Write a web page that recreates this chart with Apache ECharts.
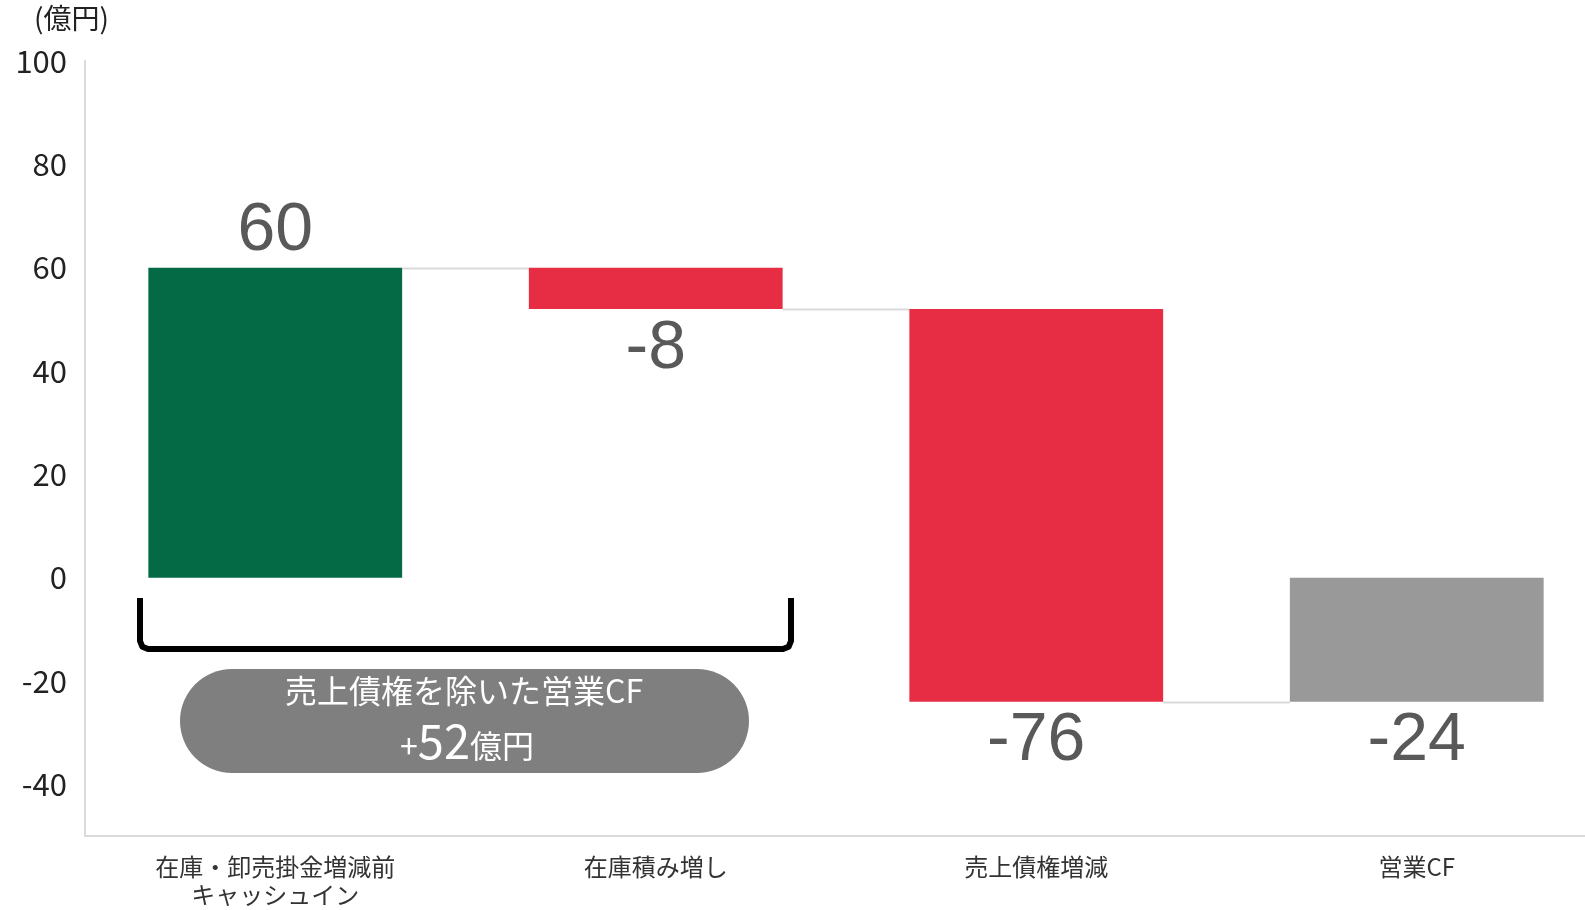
<!DOCTYPE html>
<html>
<head>
<meta charset="utf-8">
<script src="https://cdn.jsdelivr.net/npm/echarts@6/dist/echarts.min.js"></script>
<style>
  html, body { margin: 0; padding: 0; background: #fff; }
  #chart { width: 1585px; height: 910px; }
</style>
</head>
<body>
<div id="chart"></div>
<script>
// Waterfall of operating cash flow (億円)
const categories = ['在庫・卸売掛金増減前\nキャッシュイン', '在庫積み増し', '売上債権増減', '営業CF'];
const changes = [60, -8, -76, -24];          // step values; the last one is the resulting total
const isTotal = [false, false, false, true];
const barColors = ['#046A46', '#E62D44', '#E62D44', '#999999'];
const yTicks = [-40, -20, 0, 20, 40, 60, 80, 100];
const unitLabel = '(億円)';
const noteTitle = '売上債権を除いた営業CF';
const noteValue = 52;

// build [index, start, end, value] rows from the step values
const rows = [];
let running = 0;
changes.forEach((v, i) => {
  if (isTotal[i]) {
    rows.push([i, 0, v, v]);
    running = v;
  } else {
    rows.push([i, running, running + v, v]);
    running += v;
  }
});

const FONT = '"Noto Sans CJK JP", "Noto Sans", sans-serif';
const BIG = '"Liberation Sans Narrow", "Liberation Sans", sans-serif';

function renderBar(params, api) {
  const i = params.dataIndex;
  const start = api.value(1), end = api.value(2), v = api.value(3);
  const bandW = api.size([1, 0])[0];
  const w = bandW * 0.667;
  const pStart = api.coord([i, start]);
  const pEnd = api.coord([i, end]);
  const top = Math.min(pStart[1], pEnd[1]);
  const bottom = Math.max(pStart[1], pEnd[1]);
  const cx = pStart[0];
  const children = [{
    type: 'rect',
    shape: { x: cx - w / 2, y: top, width: w, height: bottom - top },
    style: { fill: barColors[i] }
  }, {
    type: 'text',
    style: {
      text: String(v),
      x: cx,
      y: v >= 0 ? top - 36 : bottom + 40,
      fill: '#595959',
      font: '68px ' + BIG,
      align: 'center',
      verticalAlign: 'middle'
    }
  }];
  // connector to the next bar at the running level
  if (i < rows.length - 1) {
    const nx = api.coord([i + 1, end])[0];
    const y = Math.round(pEnd[1]) + 0.5;
    children.push({
      type: 'line',
      shape: { x1: cx + w / 2, y1: y, x2: nx - w / 2, y2: y },
      style: { stroke: '#D9D9D9', lineWidth: 2 }
    });
  }
  return { type: 'group', children };
}

const chart = echarts.init(document.getElementById('chart'), null, { renderer: 'canvas' });
chart.setOption({
  animation: false,
  backgroundColor: '#ffffff',
  // the plot runs a little past the right edge of the canvas
  grid: { left: 85, width: 1522, top: 61, bottom: 74, outerBoundsMode: 'none', containLabel: false },
  xAxis: {
    type: 'category',
    data: categories,
    axisLine: { show: true, onZero: false, lineStyle: { color: '#D9D9D9', width: 2 } },
    axisTick: { show: false },
    axisLabel: {
      color: '#333333',
      fontFamily: FONT,
      fontSize: 24,
      lineHeight: 28,
      margin: 17
    }
  },
  yAxis: {
    type: 'value',
    min: -50,
    max: 100,
    interval: 10,
    splitLine: { show: false },
    axisTick: { show: false },
    axisLine: { show: true, lineStyle: { color: '#D9D9D9', width: 2 } },
    axisLabel: {
      color: '#222222',
      fontFamily: FONT,
      fontSize: 31,
      margin: 18,
      formatter: v => (yTicks.indexOf(v) >= 0 ? String(v) : '')
    }
  },
  series: [{
    type: 'custom',
    renderItem: renderBar,
    encode: { x: 0, y: [1, 2] },
    data: rows,
    z: 3
  }],
  graphic: [
    {
      type: 'text',
      left: 34, top: 4,
      style: { text: unitLabel, fill: '#222222', font: '28px ' + FONT }
    },
    {
      // bracket grouping the first two steps
      type: 'polyline',
      shape: {
        points: [[140, 598], [140, 641], [142.3, 646.7], [148, 649], [783, 649], [788.7, 646.7], [791, 641], [791, 598]]
      },
      style: { stroke: '#000000', lineWidth: 6, fill: null, lineJoin: 'round' }
    },
    {
      type: 'rect',
      shape: { x: 180, y: 669, width: 569, height: 104, r: 52 },
      style: { fill: '#7F7F7F' }
    },
    {
      type: 'text',
      x: 464, y: 691,
      style: {
        text: noteTitle,
        fill: '#ffffff',
        font: '32px ' + FONT,
        align: 'center',
        verticalAlign: 'middle'
      }
    },
    {
      type: 'text',
      x: 467, y: 741,
      style: {
        text: '{s|+}{b|' + noteValue + '}{s|億円}',
        align: 'center',
        verticalAlign: 'middle',
        rich: {
          s: { fill: '#ffffff', fontFamily: FONT, fontSize: 32, padding: [10, 0, 0, 0] },
          b: { fill: '#ffffff', fontFamily: FONT, fontSize: 47 }
        }
      }
    }
  ]
});
</script>
</body>
</html>
